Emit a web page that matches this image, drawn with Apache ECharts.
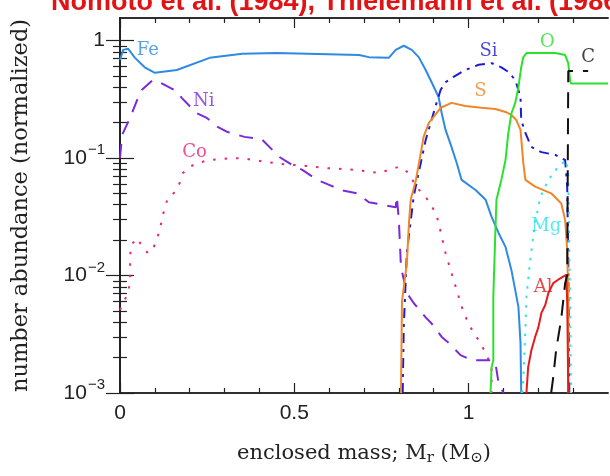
<!DOCTYPE html>
<html>
<head>
<meta charset="utf-8">
<script src="https://cdn.jsdelivr.net/npm/echarts@6/dist/echarts.min.js"></script>
<style>
  html, body { margin: 0; padding: 0; background: #fff; }
  #chart { width: 610px; height: 476px; }
</style>
</head>
<body>
<div id="chart"></div>
<script>
// enclosed mass (Msun) and normalized abundance
var fe = [[0,0.68],[0.009,0.83],[0.023,0.85],[0.043,0.71],[0.071,0.59],[0.1,0.53],[0.163,0.56],[0.257,0.71],[0.351,0.77],[0.449,0.78],[0.686,0.75],[0.714,0.72],[0.771,0.71],[0.791,0.83],[0.814,0.9],[0.837,0.83],[0.857,0.72],[0.877,0.56],[0.894,0.44],[0.914,0.33],[0.923,0.24],[0.934,0.173],[0.951,0.124],[0.966,0.0906],[0.98,0.065],[1.02,0.0534],[1.049,0.044],[1.066,0.0315],[1.086,0.023],[1.106,0.0175],[1.123,0.0111],[1.143,0.0054],[1.149,0.00267],[1.151,0.001]]
var si = [[0.811,0.001],[0.814,0.0036],[0.823,0.0158],[0.843,0.048],[0.877,0.142],[0.906,0.28],[0.92,0.38],[0.934,0.44],[0.957,0.49],[0.991,0.56],[1.029,0.62],[1.066,0.64],[1.094,0.59],[1.114,0.54],[1.134,0.46],[1.149,0.33],[1.151,0.21],[1.163,0.163],[1.18,0.124],[1.209,0.112],[1.249,0.106],[1.277,0.096],[1.283,0.057],[1.286,0.0136],[1.289,0.001]]
var s = [[0.806,0.001],[0.809,0.006],[0.823,0.0128],[0.829,0.028],[0.834,0.044],[0.849,0.065],[0.863,0.11],[0.871,0.151],[0.886,0.199],[0.9,0.223],[0.92,0.267],[0.951,0.294],[0.991,0.277],[1.037,0.267],[1.077,0.261],[1.106,0.246],[1.123,0.232],[1.137,0.21],[1.149,0.173],[1.157,0.0906],[1.163,0.065],[1.191,0.057],[1.237,0.05],[1.266,0.041],[1.277,0.0297],[1.283,0.0165],[1.286,0.0062],[1.286,0.001]]
var o = [[1.063,0.001],[1.066,0.00166],[1.071,0.0019],[1.071,0.0066],[1.077,0.0244],[1.08,0.044],[1.094,0.065],[1.106,0.096],[1.114,0.163],[1.123,0.24],[1.134,0.294],[1.143,0.4],[1.151,0.59],[1.157,0.72],[1.166,0.78],[1.249,0.78],[1.277,0.75],[1.286,0.64],[1.291,0.46],[1.294,0.43],[1.4,0.43]]
var ni = [[0,0.1],[0.006,0.157],[0.029,0.219],[0.049,0.31],[0.063,0.38],[0.094,0.46],[0.114,0.44],[0.166,0.365],[0.177,0.324],[0.22,0.24],[0.249,0.219],[0.28,0.184],[0.309,0.166],[0.357,0.151],[0.406,0.145],[0.437,0.117],[0.457,0.102],[0.494,0.087],[0.523,0.079],[0.566,0.065],[0.6,0.059],[0.637,0.053],[0.68,0.05],[0.714,0.042],[0.751,0.04],[0.791,0.038],[0.794,0.047],[0.8,0.0297],[0.806,0.0118],[0.823,0.0071],[0.843,0.0058],[0.877,0.0044],[0.894,0.0039],[0.923,0.003],[0.943,0.00267],[0.977,0.0021],[1.009,0.0019],[1.066,0.0019],[1.077,0.0018],[1.086,0.00122],[1.1,0.001]]
var co = [[0,0.0051],[0.02,0.0068],[0.029,0.0086],[0.029,0.0141],[0.031,0.018],[0.049,0.0208],[0.063,0.0178],[0.08,0.0155],[0.094,0.0165],[0.106,0.0205],[0.114,0.0244],[0.123,0.0327],[0.137,0.0457],[0.157,0.051],[0.171,0.061],[0.18,0.074],[0.2,0.084],[0.223,0.0906],[0.257,0.096],[0.323,0.1],[0.363,0.098],[0.42,0.0925],[0.457,0.089],[0.534,0.0855],[0.591,0.082],[0.677,0.079],[0.743,0.0745],[0.8,0.084],[0.829,0.0745],[0.849,0.057],[0.877,0.0466],[0.906,0.034],[0.914,0.028],[0.934,0.0155],[0.951,0.0105],[0.966,0.0075],[0.986,0.0048],[1.006,0.0036],[1.029,0.0028],[1.049,0.0022],[1.066,0.00166],[1.066,0.001]]
var mg = [[1.154,0.001],[1.157,0.0013],[1.163,0.0034],[1.166,0.0066],[1.177,0.0136],[1.191,0.028],[1.206,0.0466],[1.229,0.065],[1.257,0.084],[1.28,0.096],[1.286,0.072],[1.291,0.0062],[1.294,0.001]]
var al = [[1.166,0.001],[1.171,0.00166],[1.18,0.0023],[1.191,0.003],[1.2,0.0036],[1.209,0.0048],[1.22,0.0056],[1.229,0.0071],[1.243,0.0086],[1.257,0.0092],[1.28,0.0101],[1.283,0.006],[1.286,0.001]]
var c = [[1.237,0.001],[1.243,0.00137],[1.251,0.0023],[1.266,0.0043],[1.277,0.0086],[1.283,0.0101],[1.286,0.55],[1.343,0.55]]

// element names written next to their curves
var tagNames = ['Fe', 'Ni', 'Co', 'Si', 'S', 'O', 'C', 'Mg', 'Al']
var tagAt = [[0.08,0.83],[0.24,0.305],[0.214,0.112],[1.057,0.8],[1.034,0.365],[1.226,0.97],[1.343,0.72],[1.223,0.0264],[1.214,0.008]]
var tagColors = ['#2f8ae4', '#7a2ad8', '#e8247c', '#1c1cd0', '#f0862a', '#2ee02e', '#111111', '#30e4e8', '#e41c1c']

var xMajor = [0, 0.5, 1]
var xMinor = [0.1, 0.2, 0.3, 0.4, 0.6, 0.7, 0.8, 0.9, 1.1, 1.2, 1.3]
var yMajor = [0.001, 0.01, 0.1, 1]
var yMinor = []
;[0.001, 0.01, 0.1].forEach(function (d) {
  for (var k = 2; k <= 9; k++) yMinor.push(+(d * k).toPrecision(2))
})

var myChart = echarts.init(document.getElementById('chart'))

var axisLine = { show: true, lineStyle: { color: '#222', width: 1.5 } }
var tickStyle = { color: '#222', width: 1.2 }
var serif = 'DejaVu Serif'

function xAx(pos, vals, len, labels) {
  return {
    type: 'value', position: pos, min: 0, max: 1.4,
    axisLine: axisLine,
    splitLine: { show: false },
    axisTick: { show: true, inside: true, length: len, customValues: vals, lineStyle: tickStyle },
    axisLabel: labels ? {
      show: true, customValues: xMajor, margin: 10,
      fontFamily: 'Liberation Sans', fontSize: 21, color: '#222',
      formatter: function (v) { return String(v) }
    } : { show: false }
  }
}

function yAx(pos, vals, len, labels) {
  return {
    type: 'log', logBase: 10, position: pos, min: 0.001, max: 1.55,
    axisLine: axisLine,
    splitLine: { show: false },
    axisTick: { show: true, inside: true, length: len, customValues: vals, lineStyle: tickStyle },
    axisLabel: labels ? {
      show: true, customValues: yMajor, margin: 15,
      fontFamily: 'Liberation Sans', fontSize: 21, color: '#222',
      formatter: function (v) {
        if (v >= 0.999) return '1'
        var e = Math.round(Math.log10(v))
        return '10{sup|\u2212' + (-e) + '}'
      },
      rich: { sup: { fontFamily: 'Liberation Sans', fontSize: 15, verticalAlign: 'top', padding: [0, 0, 16, 1], color: '#222' } }
    } : { show: false }
  }
}

function line(data, color, dash) {
  return {
    type: 'line', data: data, xAxisIndex: 0, yAxisIndex: 0,
    showSymbol: false, symbol: 'none', silent: true,
    lineStyle: { color: color, width: 2, type: dash || 'solid', cap: 'butt' }
  }
}

var option = {
  animation: false,
  backgroundColor: '#fff',
  title: {
    text: 'Nomoto et al. (1984), Thielemann et al. (1986)',
    left: 46, top: -16,
    textStyle: { color: '#e01414', fontFamily: 'Liberation Sans', fontWeight: 'bold', fontSize: 27 }
  },
  grid: { left: 120, right: 2, top: 18, bottom: 83 },
  xAxis: [
    Object.assign(xAx('bottom', xMajor, 10, true), {
      name: 'enclosed mass; M{sub|r} (M{sub|\u2299})',
      nameLocation: 'middle', nameGap: 49,
      nameTextStyle: {
        fontFamily: serif, fontSize: 21, color: '#222',
        rich: { sub: { fontFamily: serif, fontSize: 15, verticalAlign: 'bottom', padding: [9, 0, 0, 0], color: '#222' } }
      }
    }),
    xAx('bottom', xMinor, 5, false),
    xAx('top', xMajor, 10, false),
    xAx('top', xMinor, 5, false)
  ],
  yAxis: [
    Object.assign(yAx('left', yMajor, 14, true), {
      name: 'number abundance (normalized)',
      nameLocation: 'middle', nameGap: 87,
      nameTextStyle: { fontFamily: serif, fontSize: 22.5, color: '#222' }
    }),
    yAx('left', yMinor, 7, false),
    yAx('right', yMajor, 14, false),
    yAx('right', yMinor, 7, false)
  ],
  series: [
    line(co, '#e8247c', [2.5, 9]),
    line(ni, '#7a2ad8', [14, 10]),
    line(fe, '#2f8ae4'),
    line(si, '#1c1cd0', [10, 6, 3, 6]),
    line(s, '#f0862a'),
    line(o, '#2ee02e'),
    line(mg, '#30e4e8', [2.5, 7]),
    line(al, '#e41c1c'),
    line(c, '#111111', [16, 10]),
    {
      type: 'scatter', xAxisIndex: 0, yAxisIndex: 0, symbolSize: 0, silent: true,
      data: tagNames.map(function (n, i) {
        return { value: tagAt[i], name: n, label: { color: tagColors[i] } }
      }),
      label: {
        show: true, position: 'inside', formatter: '{b}',
        fontFamily: serif, fontSize: 18
      }
    }
  ]
}

myChart.setOption(option)
</script>
</body>
</html>
